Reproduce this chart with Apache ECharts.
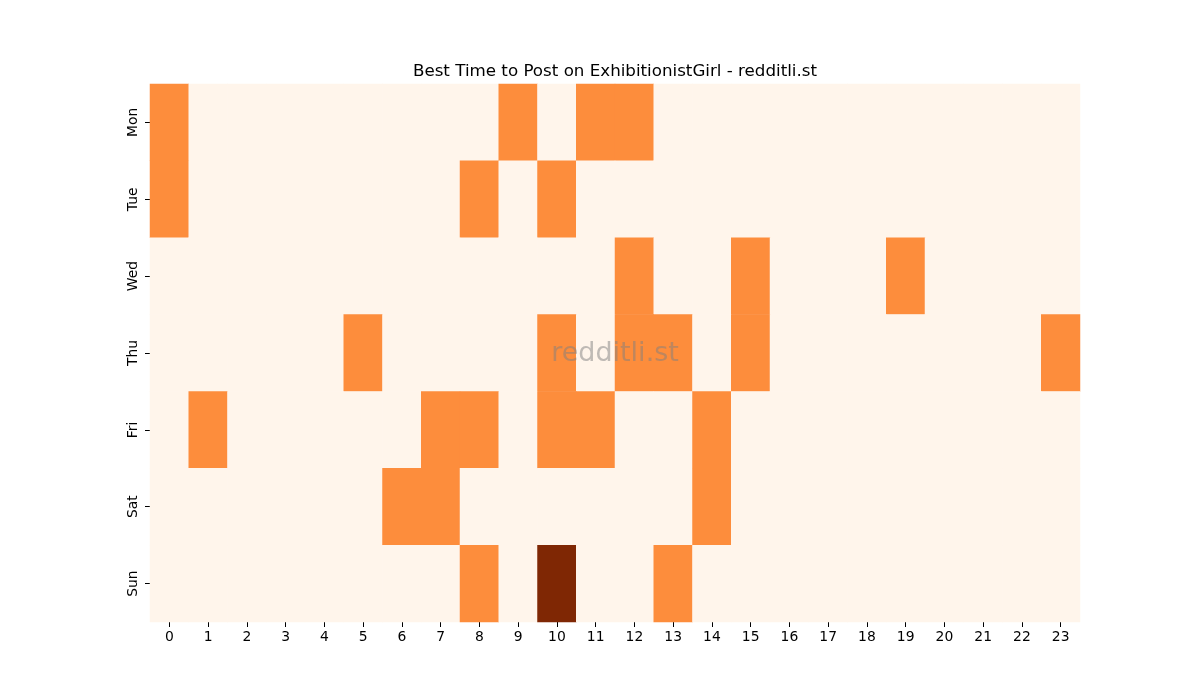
<!DOCTYPE html>
<html>
<head>
    <meta charset="utf-8">
    <title>Best Time to Post</title>
    <script src="https://cdn.jsdelivr.net/npm/echarts@6/dist/echarts.min.js"></script>
    <style>
        html, body { margin: 0; padding: 0; background: #fff; }
        #chart_box { width: 1200px; height: 700px; }
    </style>
</head>
<body>
    <div id="chart_box"></div>
    <script>
        var hours = ['0', '1', '2', '3', '4', '5', '6', '7', '8', '9', '10', '11',
            '12', '13', '14', '15', '16', '17', '18', '19', '20', '21', '22', '23'];
        var days = ['Mon', 'Tue', 'Wed', 'Thu', 'Fri', 'Sat', 'Sun'];

        // hours with posts per day (value 1), Sunday 10h is 2
        var monHot = [0, 9, 11, 12];
        var tueHot = [0, 8, 10];
        var wedHot = [12, 15, 19];
        var thuHot = [5, 10, 12, 13, 15, 23];
        var friHot = [1, 7, 8, 10, 11, 14];
        var satHot = [6, 7, 14];
        var sunHot = [8, 13];
        var sunPeak = [10];

        var hotLists = [monHot, tueHot, wedHot, thuHot, friHot, satHot, sunHot];

        var cells = [];
        for (var d = 0; d < days.length; d++) {
            for (var h = 0; h < hours.length; h++) {
                var v = 0;
                if (hotLists[d].indexOf(h) >= 0) v = 1;
                if (d == 6 && sunPeak.indexOf(h) >= 0) v = 2;
                cells.push([h, d, v]);
            }
        }

        var myChart = echarts.init(document.getElementById('chart_box'));
        var option = {
            animation: false,
            title: {
                text: 'Best Time to Post on ExhibitionistGirl - redditli.st',
                left: 610,
                textAlign: 'center',
                top: 58,
                textStyle: {
                    color: '#000',
                    fontSize: 16.7,
                    fontWeight: 'normal',
                    fontFamily: 'DejaVu Sans'
                }
            },
            grid: {
                left: 150,
                right: 120,
                top: 84,
                bottom: 78
            },
            xAxis: {
                type: 'category',
                data: hours,
                axisLine: { show: false },
                axisTick: {
                    show: true,
                    alignWithLabel: true,
                    length: 5,
                    lineStyle: { color: '#000' }
                },
                axisLabel: {
                    color: '#000',
                    fontSize: 13.9,
                    fontFamily: 'DejaVu Sans',
                    margin: 8
                },
                splitArea: { show: false }
            },
            yAxis: {
                type: 'category',
                data: days,
                inverse: true,
                axisLine: { show: false },
                axisTick: {
                    show: true,
                    alignWithLabel: true,
                    length: 5,
                    lineStyle: { color: '#000' }
                },
                axisLabel: {
                    color: '#000',
                    fontSize: 13.9,
                    fontFamily: 'DejaVu Sans',
                    rotate: 90,
                    margin: 10
                }
            },
            visualMap: {
                show: false,
                min: 0,
                max: 2,
                dimension: 2,
                inRange: {
                    color: ['#fff5eb', '#fd8d3c', '#7f2704']
                }
            },
            series: [{
                type: 'heatmap',
                data: cells,
                itemStyle: { borderWidth: 0 },
                emphasis: { disabled: true }
            }],
            graphic: [{
                type: 'text',
                z: 100,
                x: 615,
                y: 354,
                style: {
                    text: 'redditli.st',
                    align: 'center',
                    verticalAlign: 'middle',
                    fill: 'rgba(128,128,128,0.5)',
                    fontSize: 27,
                    fontFamily: 'DejaVu Sans'
                }
            }]
        };
        myChart.setOption(option);
    </script>
</body>
</html>
